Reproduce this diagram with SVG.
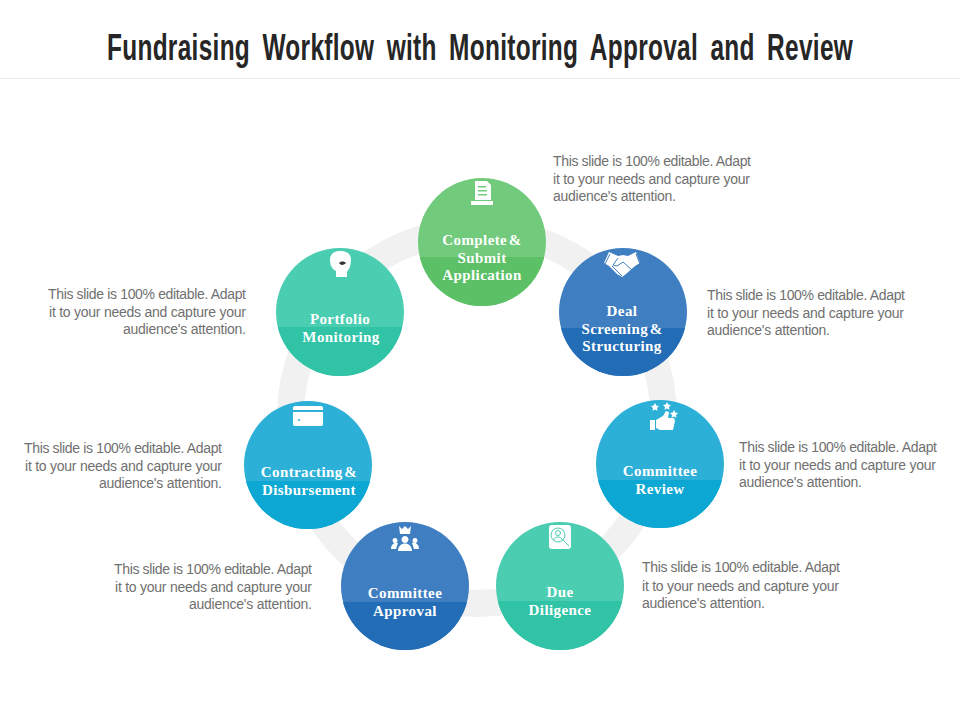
<svg xmlns="http://www.w3.org/2000/svg" width="960" height="720" viewBox="0 0 960 720">
<style>
.title{font-family:"Liberation Sans",Arial,sans-serif;font-weight:700;font-size:37px;word-spacing:8px;fill:#262626}
.lab{font-family:"Liberation Serif","Times New Roman",serif;font-weight:700;font-size:15px;letter-spacing:.4px;word-spacing:-2.500px;fill:#fff;text-anchor:middle}
.body{font-family:"Liberation Sans",Arial,sans-serif;font-size:14px;fill:#707070}
.end{text-anchor:end}
.edge{fill:none;stroke:#f1f1f1;stroke-width:27}
.i{fill:#fff}
.g1{fill:#72cb7d}.g2{fill:#5bc066}
.b1{fill:#3f7fc1}.b2{fill:#226db6}
.t1{fill:#4acdb0}.t2{fill:#30c3a5}
.c1{fill:#2db0d8}.c2{fill:#0ca8d3}
</style>
<defs>
<clipPath id="cp"><circle cx="0" cy="0" r="64"/></clipPath>
</defs>
<rect width="960" height="720" fill="#fff"/>
<text class="title" transform="translate(107,60) scale(.66,1)" x="0" y="0" textLength="1130" lengthAdjust="spacing">Fundraising Workflow with Monitoring Approval and Review</text>
<line x1="0" y1="78.500" x2="960" y2="78.500" stroke="#ececec" stroke-width="1"/>
<g id="connectors"><circle class="edge" cx="477" cy="417" r="186.500"/></g>

<g id="node-complete">
<g transform="translate(482,242)"><circle r="64" class="g1"/><rect x="-64" y="15" width="128" height="50" class="g2" clip-path="url(#cp)"/></g>
<path class="i" fill-rule="evenodd" d="M475 181h12l4 4v15h-16zM478 186v1.500h8V186zM478 190v1.500h9V190zM478 194v1.500h9V194zM471 201h22v4h-22z"/>
<text class="lab" x="482" y="245">Complete &amp;</text><text class="lab" x="482" y="263">Submit</text><text class="lab" x="482" y="280">Application</text>
</g>

<g id="node-deal">
<g transform="translate(623,312)"><circle r="64" class="b1"/><rect x="-64" y="16" width="128" height="50" class="b2" clip-path="url(#cp)"/></g>
<path class="i" d="M604 263l5-11 9 4 5-1 5 1 8-4 4 11-5 3-9 8-4 3-5-3-8-8z"/>
<path d="M610 254l-5 10M636 254l4 10M618 258l-5 7 4 1 6-4 9 8M612 266l8 8M616 270l6 6" fill="none" stroke="#3f7fc1" stroke-width="1"/>
<text class="lab" x="622" y="316">Deal</text><text class="lab" x="622" y="334">Screening &amp;</text><text class="lab" x="622" y="351">Structuring</text>
</g>

<g id="node-review">
<g transform="translate(660,464)"><circle r="64" class="c1"/><rect x="-64" y="16" width="128" height="50" class="c2" clip-path="url(#cp)"/></g>
<path class="i" d="M650 420h5v10h-5zM656 420l7-4 3-5 3 1-1 6h6l1 3-2 9h-13l-4-2zM655 403l1.300 2.600 2.700.4-2 2 .5 2.700-2.500-1.300-2.500 1.300.5-2.700-2-2 2.700-.4zM667 402l1.300 2.600 2.700.4-2 2 .5 2.700-2.500-1.300-2.500 1.300.5-2.700-2-2 2.700-.4zM674 410l1.300 2.600 2.700.4-2 2 .5 2.700-2.500-1.300-2.500 1.300.5-2.700-2-2 2.700-.4z"/>
<text class="lab" x="660" y="476">Committee</text><text class="lab" x="660" y="494">Review</text>
</g>

<g id="node-diligence">
<g transform="translate(560,586)"><circle r="64" class="t1"/><rect x="-64" y="15" width="128" height="50" class="t2" clip-path="url(#cp)"/></g>
<rect class="i" x="549" y="525" width="22" height="24" rx="3"/>
<circle cx="558" cy="535" r="7" fill="none" stroke="#4acdb0" stroke-width="1"/>
<circle cx="558" cy="533" r="2.500" fill="none" stroke="#4acdb0" stroke-width="1"/>
<path d="M554 540c0-4 8-4 8 0M563 540l6 6" fill="none" stroke="#4acdb0" stroke-width="1"/>
<text class="lab" x="560" y="597">Due</text><text class="lab" x="560" y="615">Diligence</text>
</g>

<g id="node-approval">
<g transform="translate(405,586)"><circle r="64" class="b1"/><rect x="-64" y="16" width="128" height="50" class="b2" clip-path="url(#cp)"/></g>
<path class="i" d="M399 526l3 3 3-3 3 3 3-3-1 8h-10zM405 536a3.500 3.500 0 1 1-.01 0zM398 551c0-10 14-10 14 0zM395 538a2.500 2.500 0 1 1-.01 0zM391 549c0-6 5-7 7-6l-2 6zM415 538a2.500 2.500 0 1 1-.01 0zM419 549c0-6-5-7-7-6l2 6z"/>
<text class="lab" x="405" y="598">Committee</text><text class="lab" x="405" y="616">Approval</text>
</g>

<g id="node-contracting">
<g transform="translate(308,465)"><circle r="64" class="c1"/><rect x="-64" y="16" width="128" height="50" class="c2" clip-path="url(#cp)"/></g>
<path class="i" d="M295 406h26a2 2 0 0 1 2 2v2h-30v-2a2 2 0 0 1 2-2zM293 412h30v12a2 2 0 0 1-2 2h-26a2 2 0 0 1-2-2z"/>
<circle cx="299" cy="420" r="1" fill="#2db0d8"/>
<text class="lab" x="309" y="477">Contracting &amp;</text><text class="lab" x="309" y="495">Disbursement</text>
</g>

<g id="node-portfolio">
<g transform="translate(340,312)"><circle r="64" class="t1"/><rect x="-64" y="15" width="128" height="50" class="t2" clip-path="url(#cp)"/></g>
<path class="i" d="M336 277v-6c-4-2-6-6-6-11 0-6 4-9 10-9 7 0 11 3 11 9 0 3-1 5-1 7l-3 5v5z"/>
<path d="M339 263c2-2 5-2 7 0-2 2-5 3-7 0z" fill="#333"/>
<text class="lab" x="340" y="324">Portfolio</text><text class="lab" x="341" y="342">Monitoring</text>
</g>

<g id="notes">
<text class="body" x="553" y="166" textLength="198">This slide is 100% editable. Adapt</text><text class="body" x="553" y="184" textLength="197">it to your needs and capture your</text><text class="body" x="553" y="201" textLength="123">audience's attention.</text>
<text class="body" x="707" y="300" textLength="198">This slide is 100% editable. Adapt</text><text class="body" x="707" y="318" textLength="197">it to your needs and capture your</text><text class="body" x="707" y="335" textLength="123">audience's attention.</text>
<text class="body" x="739" y="452" textLength="198">This slide is 100% editable. Adapt</text><text class="body" x="739" y="470" textLength="197">it to your needs and capture your</text><text class="body" x="739" y="487" textLength="123">audience's attention.</text>
<text class="body" x="642" y="572" textLength="198">This slide is 100% editable. Adapt</text><text class="body" x="642" y="591" textLength="197">it to your needs and capture your</text><text class="body" x="642" y="608" textLength="123">audience's attention.</text>
<text class="body end" x="246" y="299" textLength="198">This slide is 100% editable. Adapt</text><text class="body end" x="246" y="317" textLength="197">it to your needs and capture your</text><text class="body end" x="246" y="334" textLength="123">audience's attention.</text>
<text class="body end" x="222" y="453" textLength="198">This slide is 100% editable. Adapt</text><text class="body end" x="222" y="471" textLength="197">it to your needs and capture your</text><text class="body end" x="222" y="488" textLength="123">audience's attention.</text>
<text class="body end" x="312" y="574" textLength="198">This slide is 100% editable. Adapt</text><text class="body end" x="312" y="592" textLength="197">it to your needs and capture your</text><text class="body end" x="312" y="609" textLength="123">audience's attention.</text>
</g>
</svg>
